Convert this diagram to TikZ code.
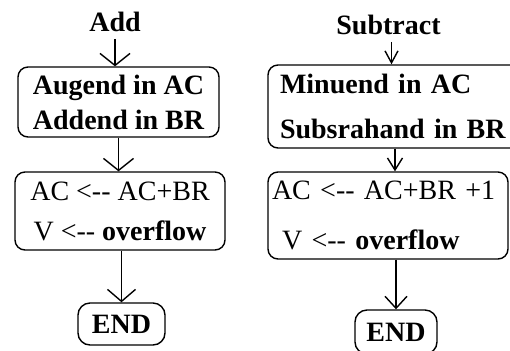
\documentclass[tikz,border=0pt]{standalone}
\usepackage{fontspec}
\setmainfont{Liberation Serif}[Ligatures=TeXOff]
\usetikzlibrary{arrows.meta}

\tikzset{
  box/.style={draw, rounded corners=5pt, line width=0.7pt, inner sep=0pt},
  flow/.style={line width=0.7pt, -{Straight Barb[length=6pt,width=#1]}},
  flow/.default=14pt
}

\begin{document}
\begin{tikzpicture}[x=0.5pt,y=-0.5pt]
      \path[use as bounding box, clip] (0,0) rectangle (510,350);

      % add
      \node[font=\bfseries\fontsize{14}{17}\selectfont] (add) at (115,22) {Add};
      \node[box, minimum width=100.5pt, minimum height=35pt, align=center,
            font=\bfseries\fontsize{14}{17.5}\selectfont] (aug) at (118.5,102) {Augend in AC\\Addend in BR};
      \node[box, minimum width=105pt, minimum height=39pt, align=center,
            font=\fontsize{14}{20}\selectfont] (sumA) at (120,211) {AC <-- AC+BR\\V <-- \textbf{overflow}};
      \node[box, rounded corners=6pt, minimum width=43.5pt, minimum height=21pt,
            font=\bfseries\fontsize{14}{17}\selectfont] (endA) at (121.5,324) {END};

      \draw[flow=15pt] (add) -- (add |- aug.north);
      \draw[flow=15pt] (aug) -- (aug |- sumA.north);
      \draw[flow=14pt] (endA |- sumA.south) -- (endA);

      % subtract
      \node[font=\bfseries\fontsize{14}{17}\selectfont] (sub) at (388.5,25) {Subtract};
      \node[box, text width=115pt, inner xsep=6pt, minimum height=41.5pt, align=left,
            font=\bfseries\fontsize{14}{22.5}\selectfont] (mnd) at (395,106.5) {Minuend in AC\\Subsrahand in BR};
      \node[box, text width=116pt, inner xsep=2pt, minimum height=43.5pt, align=left,
            font=\fontsize{14}{25}\selectfont] (sumS) at (388,215.5) {AC <-- AC+BR +1\\\hspace*{5pt}V <-- \textbf{overflow}};
      \node[box, rounded corners=6pt, minimum width=41pt, minimum height=22pt,
            font=\bfseries\fontsize{14}{17}\selectfont] (endS) at (396,332) {END};

      \draw[flow=6.5pt] ([xshift=1.5pt]sub.south) -- ([xshift=1.5pt]sub.south |- mnd.north);
      \draw[flow=7.5pt] (mnd) -- (mnd |- sumS.north);
      \draw[flow=11pt] (endS |- sumS.south) -- (endS);
\end{tikzpicture}
\end{document}
